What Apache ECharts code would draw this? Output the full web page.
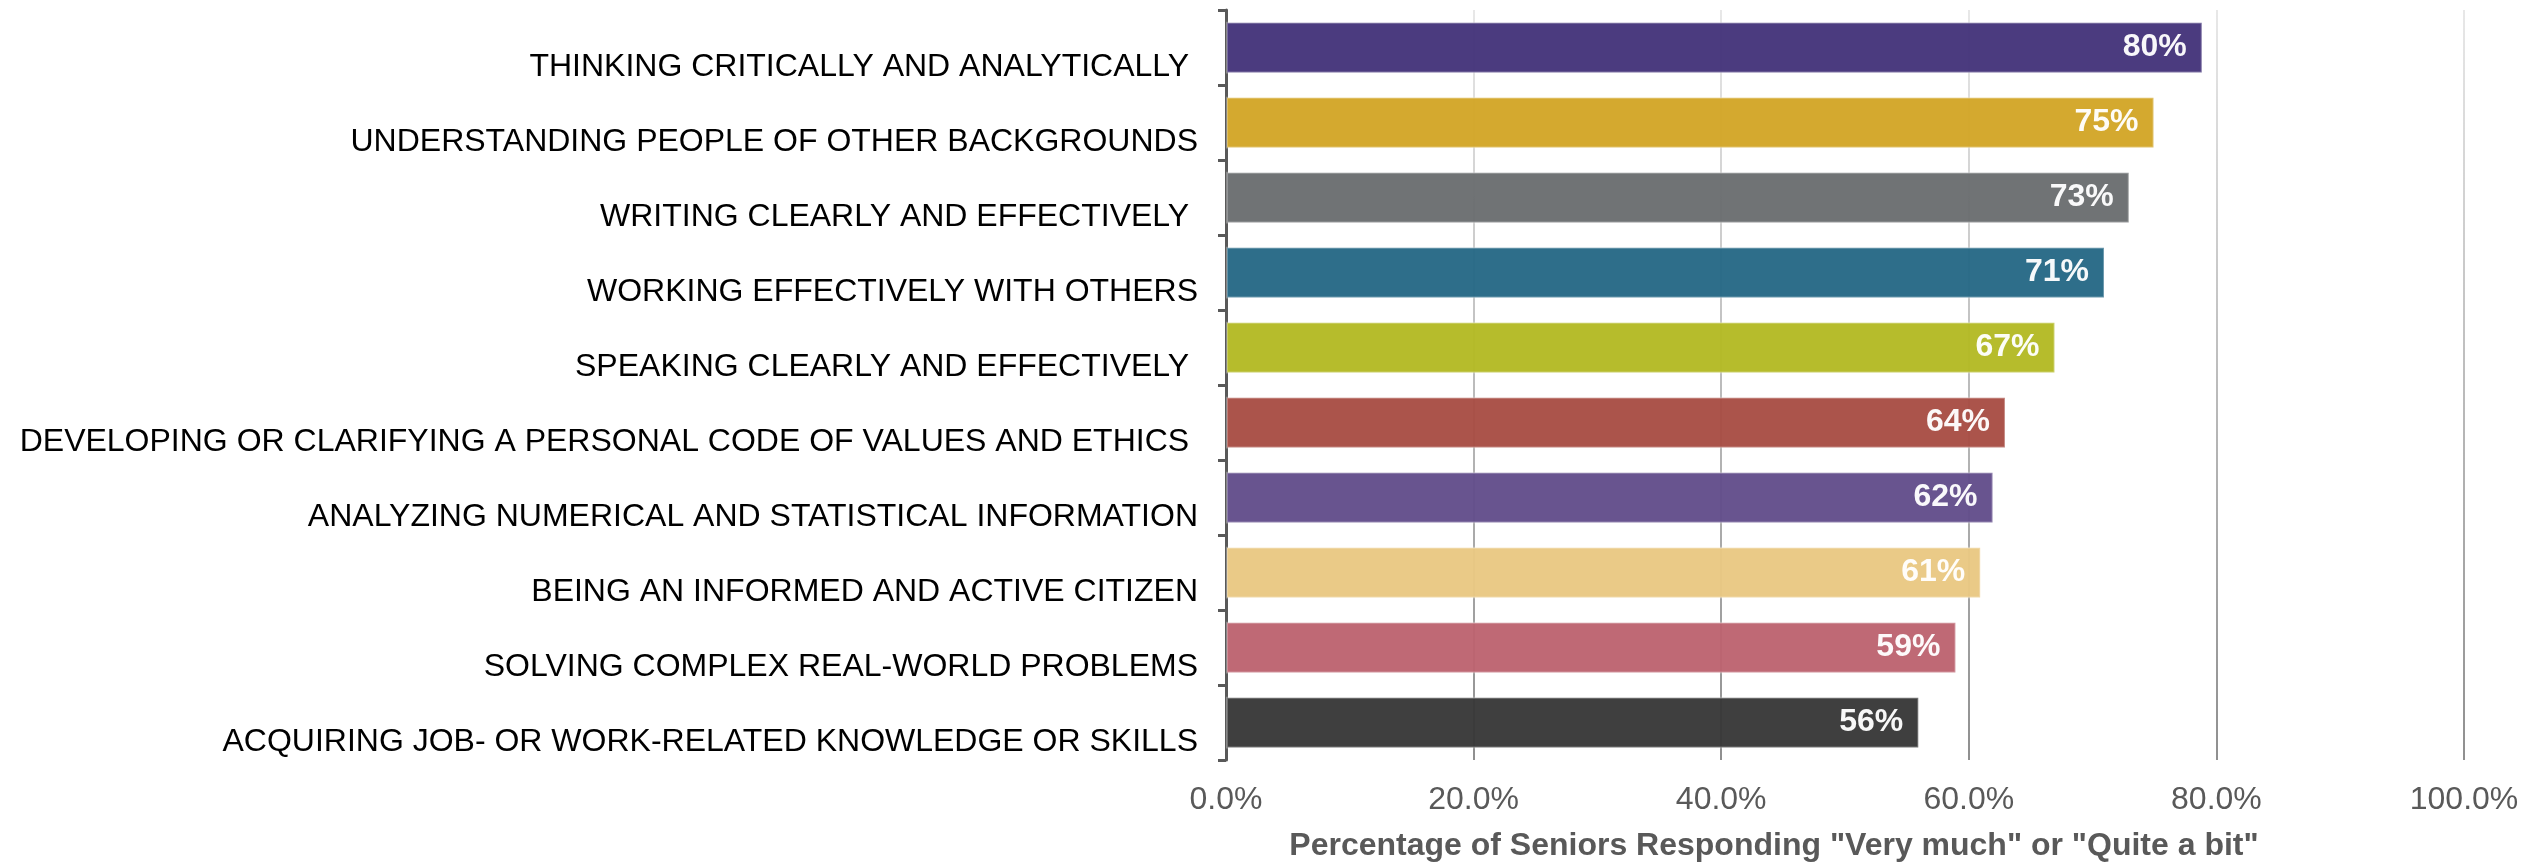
<!DOCTYPE html>
<html>
<head>
<meta charset="utf-8">
<style>
  html, body { margin: 0; padding: 0; background: #fff; }
  #chart { width: 2534px; height: 862px; }
</style>
<script src="https://cdn.jsdelivr.net/npm/echarts@6/dist/echarts.min.js"></script>
</head>
<body>
<div id="chart"></div>
<script>
// Categories, top to bottom (trailing spaces kept as in the source labels)
var skills = [
    'THINKING CRITICALLY AND ANALYTICALLY ',
    'UNDERSTANDING PEOPLE OF OTHER BACKGROUNDS',
    'WRITING CLEARLY AND EFFECTIVELY ',
    'WORKING EFFECTIVELY WITH OTHERS',
    'SPEAKING CLEARLY AND EFFECTIVELY ',
    'DEVELOPING OR CLARIFYING A PERSONAL CODE OF VALUES AND ETHICS ',
    'ANALYZING NUMERICAL AND STATISTICAL INFORMATION',
    'BEING AN INFORMED AND ACTIVE CITIZEN',
    'SOLVING COMPLEX REAL-WORLD PROBLEMS',
    'ACQUIRING JOB- OR WORK-RELATED KNOWLEDGE OR SKILLS'
];

// bar lengths as drawn (percent)
var barLengths = [78.9, 75, 73, 71, 67, 63, 62, 61, 59, 56];

// the printed percentages on the bars
var barLabels = [80, 75, 73, 71, 67, 64, 62, 61, 59, 56];

var barColors = [
    '#44337a', '#d2a526', '#6a6d6f', '#256885', '#b3b923',
    '#a84d44', '#624d8a', '#e9c882', '#bc636f', '#373737'
];

var axisTicks = [0, 20, 40, 60, 80, 100];

var FONT = "'Liberation Sans', Arial, Helvetica, sans-serif";

var chart = echarts.init(document.getElementById('chart'));

var option = {
    backgroundColor: '#ffffff',
    animation: false,
    grid: {
        left: 1226,
        right: 70,
        top: 10,
        height: 750,
        outerBoundsMode: 'none'
    },
    xAxis: {
        type: 'value',
        min: axisTicks[0],
        max: axisTicks[axisTicks.length - 1],
        interval: axisTicks[1] - axisTicks[0],
        name: 'Percentage of Seniors Responding "Very much" or "Quite a bit"',
        nameLocation: 'middle',
        nameGap: 70,
        nameTextStyle: {
            fontFamily: FONT,
            fontSize: 32,
            fontWeight: 'bold',
            color: '#595959',
            padding: [0, 142, 0, 0]
        },
        axisLine: { show: false },
        axisTick: { show: false },
        axisLabel: {
            margin: 24,
            fontFamily: FONT,
            fontSize: 32,
            color: '#595959',
            formatter: function (v) {
                return v.toFixed(1) + '%';
            }
        },
        splitLine: {
            show: true,
            lineStyle: {
                width: 2,
                color: new echarts.graphic.LinearGradient(0, 0, 0, 1, [
                    { offset: 0, color: '#e8e8e8' },
                    { offset: 1, color: '#8f8f8f' }
                ])
            }
        }
    },
    yAxis: {
        type: 'category',
        inverse: true,
        data: skills,
        axisLine: {
            show: true,
            lineStyle: { color: '#595959', width: 3 }
        },
        axisTick: {
            show: true,
            length: 8,
            lineStyle: { color: '#595959', width: 3 }
        },
        axisLabel: {
            margin: 28,
            verticalAlign: 'top',
            lineHeight: 40,
            fontFamily: FONT,
            fontSize: 32,
            color: '#000000'
        }
    },
    series: [
        {
            type: 'bar',
            barCategoryGap: '31%',
            data: barLengths.map(function (v, i) {
                return {
                    value: v,
                    itemStyle: { color: barColors[i] },
                    label: { formatter: barLabels[i] + '%' }
                };
            }),
            itemStyle: {
                opacity: 0.96,
                borderColor: 'rgba(255,255,255,0.3)',
                borderWidth: 2
            },
            label: {
                show: true,
                position: 'insideRight',
                distance: 16,
                fontFamily: FONT,
                fontSize: 32,
                fontWeight: 'bold',
                color: '#ffffff'
            }
        }
    ]
};

chart.setOption(option);
</script>
</body>
</html>
